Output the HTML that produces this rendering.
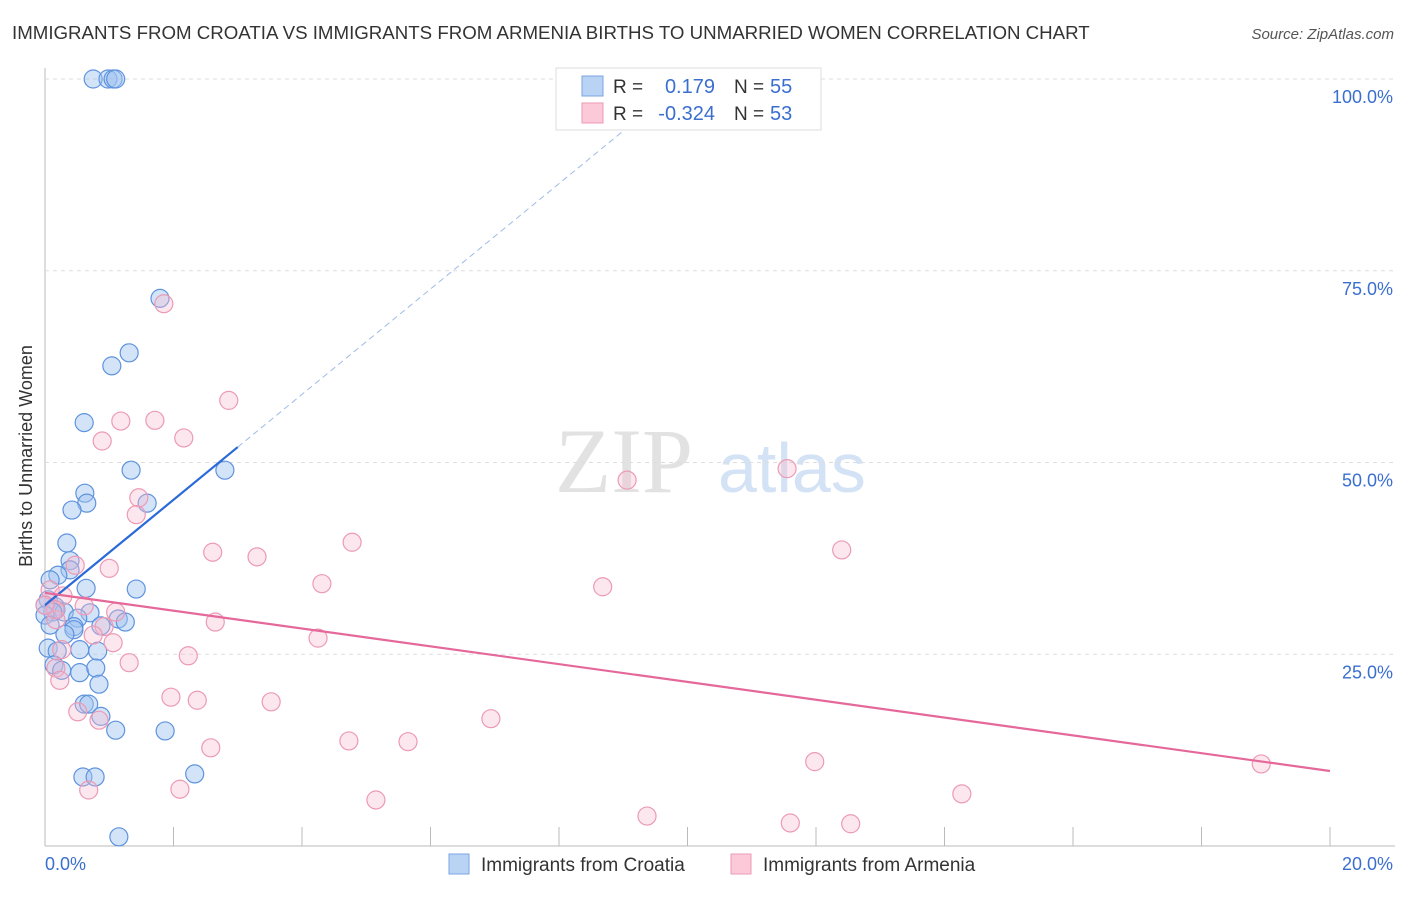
<!DOCTYPE html>
<html><head><meta charset="utf-8"><style>
body{margin:0;background:#fff;font-family:"Liberation Sans",sans-serif}
</style></head><body>
<svg id="c" width="1406" height="892" xmlns="http://www.w3.org/2000/svg">
<text x="12" y="39" font-size="18.7" fill="#333">IMMIGRANTS FROM CROATIA VS IMMIGRANTS FROM ARMENIA BIRTHS TO UNMARRIED WOMEN CORRELATION CHART</text>
<text x="1394" y="39" font-size="15" fill="#555" font-style="italic" text-anchor="end">Source: ZipAtlas.com</text>
<text x="32" y="456" font-size="18" fill="#333" text-anchor="middle" transform="rotate(-90 32 456)">Births to Unmarried Women</text>
<text x="555" y="492" font-size="92" fill="#e2e2e2" font-family="Liberation Serif,serif">ZIP</text>
<text x="718" y="492" font-size="70" fill="#d3e2f5">atlas</text>
<g id="grid"></g><g id="pts"></g><g id="lines"></g>
<g>
<rect x="556" y="68" width="265" height="62" fill="#fff" stroke="#ddd"/>
<rect x="582" y="76" width="21" height="20" fill="#b9d3f5" stroke="#7aa5e0"/>
<rect x="582" y="103" width="21" height="20" fill="#fbc9d8" stroke="#ee9ab5"/>
<text x="613" y="93" font-size="19" fill="#333">R =</text><text x="715" y="93" font-size="20" fill="#3a6fd0" text-anchor="end">0.179</text>
<text x="734" y="93" font-size="19" fill="#333">N =</text><text x="770" y="93" font-size="20" fill="#3a6fd0">55</text>
<text x="613" y="120" font-size="19" fill="#333">R =</text><text x="715" y="120" font-size="20" fill="#3a6fd0" text-anchor="end">-0.324</text>
<text x="734" y="120" font-size="19" fill="#333">N =</text><text x="770" y="120" font-size="20" fill="#3a6fd0">53</text>
</g>
<g>
<rect x="449" y="854" width="20" height="20" fill="#b9d3f5" stroke="#7aa5e0"/>
<text x="481" y="871" font-size="19" fill="#333">Immigrants from Croatia</text>
<rect x="731" y="854" width="20" height="20" fill="#fbc9d8" stroke="#ee9ab5"/>
<text x="763" y="871" font-size="19" fill="#333">Immigrants from Armenia</text>
</g>
<text x="45" y="870" font-size="18" fill="#3a6fd0">0.0%</text>
<text x="1393" y="870" font-size="18" fill="#3a6fd0" text-anchor="end">20.0%</text>
</svg>
<script>
const yTicks=[25,50,75,100];
const yTickLabels=["25.0%","50.0%","75.0%","100.0%"];
const croatiaX=[0.75,0.98,1.06,1.10,1.79,1.31,1.04,0.61,1.34,2.80,0.62,0.65,1.59,0.42,0.34,0.39,0.39,0.20,0.08,0.64,1.42,0.05,0.16,0.17,0.70,0.30,0.12,0.51,1.14,1.25,0.45,0.45,0.31,0.87,0.05,0.19,0.54,0.82,0.14,0.26,0.54,0.79,0.84,0.61,0.68,0.87,1.10,1.87,0.59,0.78,2.33,1.15,0,0,0.08];
const croatiaY=[100,100,100,100,71.4,64.3,62.6,55.2,49.0,49.0,46.0,44.7,44.7,43.8,39.5,37.2,36.0,35.3,34.7,33.6,33.5,32.1,31.2,30.8,30.4,30.5,30.5,29.7,29.6,29.2,28.6,28.2,27.6,28.7,25.8,25.4,25.6,25.4,23.6,22.9,22.6,23.2,21.1,18.5,18.5,16.9,15.1,15.0,9.0,9.0,9.4,1.2,31.4,30.1,28.8];
const armeniaX=[1.85,2.86,1.18,1.71,0.89,2.16,9.06,11.55,1.46,1.42,4.78,2.61,3.30,12.40,0.47,1.00,4.31,8.68,0.08,0.28,0.61,1.10,0.17,0.92,2.65,0.75,1.06,4.25,0.26,0.17,1.31,2.23,1.96,2.37,3.52,0.51,0.84,6.94,2.58,4.73,5.65,11.98,18.93,0.68,2.10,5.15,14.27,9.37,11.60,12.54,0.16,0,0.23];
const armeniaY=[70.7,58.1,55.4,55.5,52.8,53.2,47.7,49.2,45.4,43.2,39.6,38.3,37.7,38.6,36.6,36.2,34.2,33.8,33.4,32.6,31.3,30.5,29.5,28.6,29.2,27.5,26.5,27.1,25.6,23.2,23.9,24.8,19.4,19.0,18.8,17.5,16.4,16.6,12.8,13.7,13.6,11.0,10.7,7.3,7.4,6.0,6.8,3.9,3.0,2.9,30.8,31.4,21.6];
const croatiaTrend=[31.4,6.87];
const armeniaTrend=[33.0,-1.161];
const NS="http://www.w3.org/2000/svg";
const sx=v=>45+v/20*1285, sy=v=>846-v*7.67;
function mk(tag,attrs,parent){const e=document.createElementNS(NS,tag);for(const k in attrs)e.setAttribute(k,attrs[k]);document.getElementById(parent).appendChild(e);return e;}
let ax=mk('line',{x1:45,y1:68,x2:45,y2:846,stroke:'#bbb'},'grid');


let bx=mk('line',{x1:45,y1:846,x2:1395,y2:846,stroke:'#bbb'},'grid');


for(let i=1;i<=10;i++){let t=mk('line',{x1:sx(i*2),y1:827,x2:sx(i*2),y2:846,stroke:'#bbb'},'grid');

}
yTicks.forEach((v,i)=>{let g=mk('line',{x1:45,y1:sy(v),x2:1395,y2:sy(v),stroke:'#ddd','stroke-dasharray':'4 4'},'grid');


let t=mk('text',{x:1393,y:sy(v)+24,'font-size':18,fill:'#3a6fd0','text-anchor':'end'},'grid');t.textContent=yTickLabels[i];

});
croatiaX.forEach((x,i)=>{let c=mk('circle',{cx:sx(x),cy:sy(croatiaY[i]),r:9,fill:'rgba(160,196,240,0.45)',stroke:'#5e93de','stroke-width':1.2},'pts');

});
armeniaX.forEach((x,i)=>{let c=mk('circle',{cx:sx(x),cy:sy(armeniaY[i]),r:9,fill:'rgba(248,185,205,0.35)',stroke:'#ec9ab5','stroke-width':1.2},'pts');

});
const f=(t,x)=>t[0]+t[1]*x;
let l1=mk('line',{x1:sx(0),y1:sy(f(croatiaTrend,0)),x2:sx(3),y2:sy(f(croatiaTrend,3)),stroke:'#2a6ad8','stroke-width':2.2},'lines');


const xe=(100-croatiaTrend[0])/croatiaTrend[1];
let l2=mk('line',{x1:sx(3),y1:sy(f(croatiaTrend,3)),x2:sx(xe),y2:sy(100),stroke:'#9dbbe8','stroke-width':1,'stroke-dasharray':'6 4'},'lines');


let l3=mk('line',{x1:sx(0),y1:sy(f(armeniaTrend,0)),x2:sx(20),y2:sy(f(armeniaTrend,20)),stroke:'#e5689a','stroke-width':2.2},'lines');


</script>
</body></html>
